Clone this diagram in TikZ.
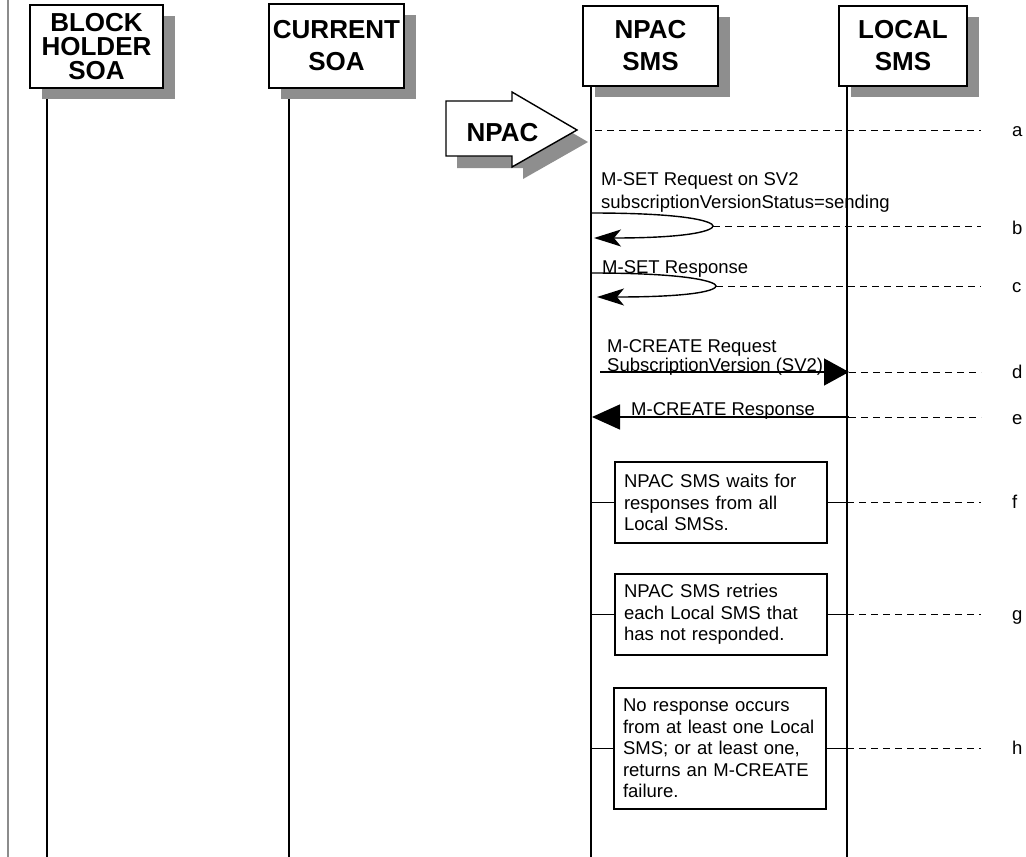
\documentclass[tikz,border=0pt]{standalone}
\usepackage{fontspec}
\setmainfont{Liberation Sans}
\usetikzlibrary{arrows.meta,shadows,backgrounds}
\definecolor{shadowgray}{RGB}{142,142,142}
\tikzset{hdr/.style={draw=black,fill=white,line width=1.4pt,align=center,inner sep=0pt,font=\bfseries\fontsize{26}{24}\selectfont,drop shadow={shadow xshift=12pt,shadow yshift=-11pt,fill=shadowgray,opacity=1}},
life/.style={line width=1.4pt},
msg/.style={line width=1.4pt},
dsh/.style={line width=1pt,dash pattern=on 7pt off 5pt},
txt/.style={font=\fontsize{18.5}{21.5}\selectfont},
lbl/.style={txt,inner sep=0pt,anchor=base west},
note/.style={txt,draw=black,fill=white,line width=1.4pt,align=left,text width=194pt,inner xsep=9pt,inner ysep=0pt},
tag/.style={txt,inner sep=0pt,anchor=base west}}

\begin{document}
\begin{tikzpicture}[x=1pt,y=-1pt]
\useasboundingbox (0,0) rectangle (1026,857);
\coordinate (BHe) at (47,857); \coordinate (CSe) at (289,857); \coordinate (NSe) at (591,857); \coordinate (LSe) at (847,857);
\coordinate (E) at (981,0); \coordinate (T) at (1012,0);

\node[hdr,minimum width=133pt,minimum height=83pt] (BH) at (96.5,46.5) {BLOCK\\HOLDER\\SOA};
\node[hdr,minimum width=135pt,minimum height=84pt] (CS) at (336.5,46) {CURRENT\\[8pt]SOA};
\node[hdr,minimum width=135pt,minimum height=80pt] (NS) at (650.5,46) {NPAC\\[8pt]SMS};
\node[hdr,minimum width=128pt,minimum height=80pt] (LS) at (903,46) {LOCAL\\[8pt]SMS};

\begin{scope}[on background layer]
\draw[line width=1.2pt,black!45] (8,0) -- (8,857);
\draw[life] (BHe |- BH.south) -- (BHe);
\draw[life] (CSe |- CS.south) -- (CSe);
\draw[life] (NSe |- NS.south) -- (NSe);
\draw[life] (LSe |- LS.south) -- (LSe);
\end{scope}

\fill[shadowgray,xshift=11pt,yshift=-12pt] (446,101) -- (512,101) -- (512,92) -- (577,130) -- (512,167) -- (512,156) -- (446,156) -- cycle;
\draw[fill=white,line width=1.4pt] (446,101) -- (512,101) -- (512,92) -- (577,130) -- (512,167) -- (512,156) -- (446,156) -- cycle;
\node[font=\bfseries\fontsize{26}{26}\selectfont,inner sep=0pt] (NP) at (502.5,132.5) {NPAC};

\coordinate (a) at (595,130);
\draw[dsh] (a) -- (a -| E);
\node[tag] (ta) at ([yshift=-6pt]a -| T) {a};

\coordinate (b0) at (591,213); \coordinate (b) at (713,226); \coordinate (b1) at (594,238);
\node[lbl] (mb1) at (601,185) {M-SET Request on SV2};
\node[lbl] (mb2) at (601,208) {subscriptionVersionStatus=sending};
\draw[msg,-{Stealth[length=27pt,width=17pt,inset=7pt]}] (b0) .. controls +(100,0) and +(0,-4) .. (b) .. controls +(0,4) and +(100,0) .. (b1);
\draw[dsh] (b) -- (b -| E);
\node[tag] (tb) at ([yshift=-8pt]b -| T) {b};

\coordinate (c0) at (591,273); \coordinate (c) at (716,286); \coordinate (c1) at (597,297);
\node[lbl] (mc) at (602,273) {M-SET Response};
\draw[msg,-{Stealth[length=27pt,width=17pt,inset=7pt]}] (c0) .. controls +(100,0) and +(0,-4) .. (c) .. controls +(0,4) and +(100,0) .. (c1);
\draw[dsh] (c) -- (c -| E);
\node[tag] (tc) at ([yshift=-6pt]c -| T) {c};

\coordinate (d0) at (600,372); \coordinate (d) at (849,372);
\node[lbl] (md1) at (607,352) {M-CREATE Request};
\node[lbl] (md2) at (607,371) {SubscriptionVersion (SV2)};
\draw[msg,-{Triangle[length=25pt,width=27pt]}] (d0) -- (d);
\draw[dsh] (d) -- (d -| E);
\node[tag] (td) at ([yshift=-6pt]d -| T) {d};

\coordinate (e) at (849,417); \coordinate (e1) at (592,417);
\node[lbl] (me) at (631,415) {M-CREATE Response};
\draw[msg,-{Triangle[length=28pt,width=25pt]}] (e) -- (e1);
\draw[dsh] (e) -- (e -| E);
\node[tag] (te) at ([yshift=-7pt]e -| T) {e};

\node[note,minimum height=81pt] (nf) at (721,502.5) {NPAC SMS waits for\\responses from all\\Local SMSs.};
\draw[msg] (nf.west -| NSe) -- (nf.west);
\draw[msg] (nf.east) -- (nf.east -| LSe);
\draw[dsh] (nf.east -| LSe) -- (nf.east -| E);
\node[tag] (tf) at ([yshift=-6pt]nf.east -| T) {f};

\node[note,minimum height=81pt] (ng) at (721,614.5) {NPAC SMS retries\\each Local SMS that\\has not responded.};
\draw[msg] (ng.west -| NSe) -- (ng.west);
\draw[msg] (ng.east) -- (ng.east -| LSe);
\draw[dsh] (ng.east -| LSe) -- (ng.east -| E);
\node[tag] (tg) at ([yshift=-6pt]ng.east -| T) {g};

\node[note,minimum height=121pt] (nh) at (720,748.5) {No response occurs\\from at least one Local\\SMS; or at least one,\\returns an M-CREATE\\failure.};
\draw[msg] (nh.west -| NSe) -- (nh.west);
\draw[msg] (nh.east) -- (nh.east -| LSe);
\draw[dsh] (nh.east -| LSe) -- (nh.east -| E);
\node[tag] (th) at ([yshift=-6pt]nh.east -| T) {h};
\end{tikzpicture}
\end{document}
